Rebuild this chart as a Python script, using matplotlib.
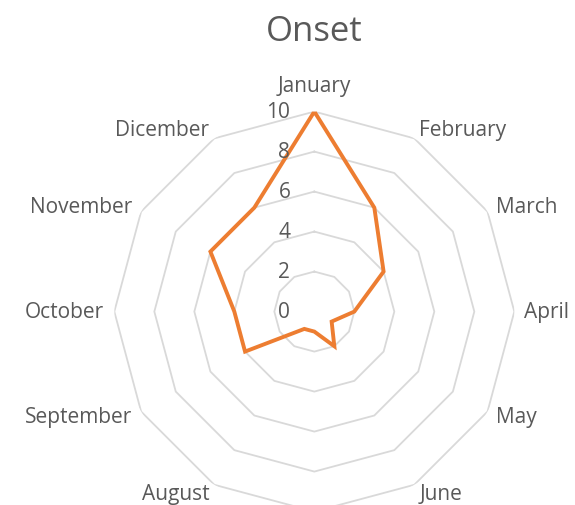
import numpy as np
import matplotlib
matplotlib.use("Agg")
import matplotlib.pyplot as plt

months = ['January', 'February', 'March', 'April', 'May', 'June',
          'July', 'August', 'September', 'October', 'November', 'Dicember']
onset = [10, 6, 4, 2, 1, 2, 1, 1, 4, 4, 6, 6]
levels = [0, 2, 4, 6, 8, 10]

GRAY = '#595959'
ORANGE = '#ED7D31'
plt.rcParams['font.family'] = ['Open Sans', 'DejaVu Sans']

fig = plt.figure(figsize=(5.75, 5.06), dpi=100)
ax = fig.add_axes([0.1988, -0.013, 0.6957, 0.7905], projection='polar')
ax.set_theta_zero_location('N')
ax.set_theta_direction(-1)
ax.set_ylim(0, 10)
ax.grid(False)
ax.spines['polar'].set_visible(False)
ax.set_xticks([])
ax.set_yticks([])
ax.patch.set_alpha(0)

n = len(months)
theta = np.linspace(0, 2 * np.pi, n, endpoint=False)
theta_c = np.append(theta, theta[0])

# polygon grid
for lv in levels[1:]:
    ax.plot(theta_c, [lv] * (n + 1), color='#d9d9d9', lw=1.3, zorder=1)

vals = np.append(onset, onset[0])
ax.plot(theta_c, vals, color=ORANGE, lw=2.8, zorder=3, solid_joinstyle='miter')

# radial value labels
for lv in levels:
    ax.annotate(str(lv), xy=(0, lv), xytext=(-24, 0), textcoords='offset pixels',
                ha='right', va='center', fontsize=15, color=GRAY, zorder=4,
                annotation_clip=False)

# month labels (the bottom one falls outside the picture, as in the original)
for t, m in zip(theta, months):
    s = np.sin(t)
    r = 10.5
    if abs(s) < 0.01:
        if np.cos(t) < 0:
            continue
        ha, va = 'center', 'bottom'
        r = 10.8
    else:
        ha = 'left' if s > 0 else 'right'
        va = 'center'
    ax.text(t, r, m, ha=ha, va=va, fontsize=15, color=GRAY, clip_on=False)

fig.text(314 / 575, 1 - 32 / 506, 'Onset', ha='center', va='center',
         fontsize=25, color=GRAY)

fig.savefig('out.png', dpi=100)
